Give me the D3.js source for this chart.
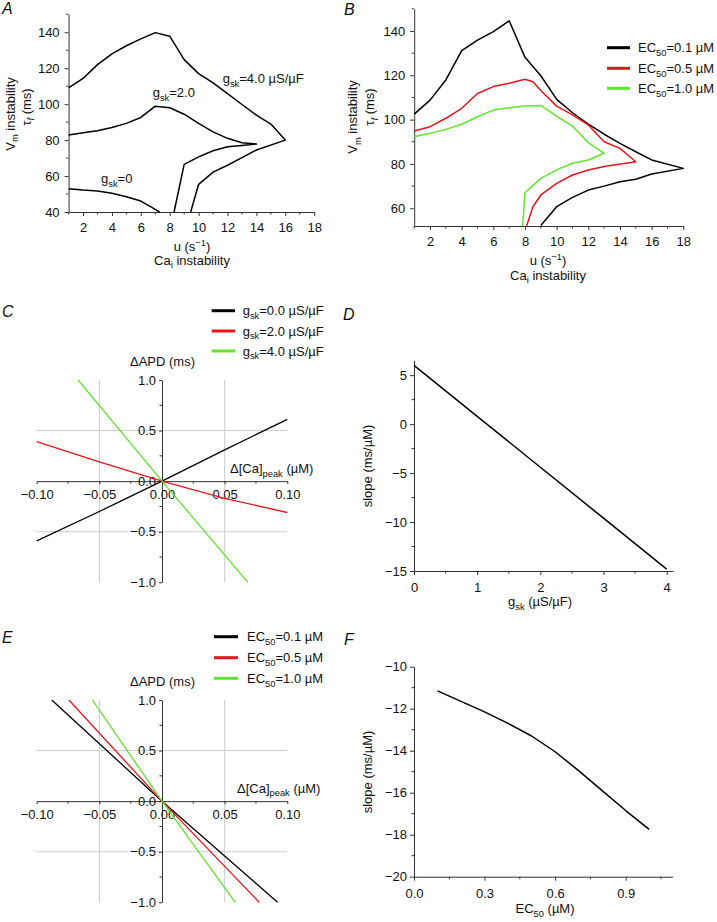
<!DOCTYPE html>
<html><head><meta charset="utf-8">
<script src="https://cdn.jsdelivr.net/npm/d3@7"></script>
<style>
body{margin:0;background:#fff;}
svg{display:block;font-family:"Liberation Sans",Arial,Helvetica,sans-serif;}
</style></head><body>
<svg id="c" width="717" height="922"></svg>
<script>
// ---------- DATA ----------
// Panel A: stability boundaries for different gsk
const A_g0_u   = [1, 2, 3, 4, 5, 6, 7, 7.3];
const A_g0_tau = [53, 52.2, 51.7, 50.4, 48.5, 46.1, 41.5, 40];
const A_g2_u   = [1, 2, 3, 4, 5, 6, 7, 8, 9, 10, 11, 12, 13, 14, 13, 12, 11, 10, 9, 8.3];
const A_g2_tau = [82.8, 84.1, 85.2, 87, 89.3, 92.6, 98.9, 98, 94.4, 89.3, 84.6, 81, 78.5, 77.8, 77, 76.3, 74.1, 70.7, 66.5, 40];
const A_g4_u   = [1, 2, 3, 4, 5, 6, 7, 8, 9, 10, 11, 12, 13, 14, 15, 16, 14, 13, 12, 11, 10, 9.45];
const A_g4_tau = [109, 114.3, 122, 128, 132.5, 136.3, 139.8, 137.8, 124.8, 117, 111.8, 105.9, 99.8, 93.9, 88.9, 80, 74.5, 70.3, 66, 62.2, 55.4, 40];
// Panel B: stability boundaries for different EC50
const B_ec01_u   = [1, 2, 3, 4, 5, 6, 7, 8, 9, 10, 11, 12, 13, 14, 15, 16, 18, 16, 15, 14, 13, 12, 11, 10, 9];
const B_ec01_tau = [102.5, 108.8, 117.9, 131.1, 135.9, 139.7, 144.6, 128.1, 119.8, 109.1, 103.1, 98, 93.4, 89.3, 85.5, 81.8, 78, 75.5, 73.1, 72, 70, 68.2, 64.9, 60.7, 52.2];
const B_ec05_u   = [1, 2, 3, 4, 5, 6, 7, 8, 8.5, 9, 10, 11, 12, 13, 14, 15, 13, 12, 11, 10, 9, 8.5, 8.1];
const B_ec05_tau = [94.9, 96.8, 100.6, 105.1, 111.8, 114.9, 116.4, 118.2, 117.1, 113.1, 106.1, 102.1, 97.6, 90, 87, 81, 78.8, 77.3, 75, 71.2, 66, 60.7, 52];
const B_ec10_u   = [1, 2, 3, 4, 5, 6, 7, 8, 9, 10, 11, 12, 13, 12, 11, 10, 9, 8, 7.85];
const B_ec10_tau = [92.3, 93.8, 95.6, 97.9, 101.3, 104.3, 105.4, 106.1, 106.4, 101.6, 97.1, 89.6, 84.8, 81.8, 80.3, 77.3, 73.5, 67, 52];
// Panel C: dAPD vs d[Ca]peak for gsk
const C_dCa      = [-0.1, -0.05, 0, 0.05, 0.1];
const C_g0_dAPD  = [-0.59, -0.3, 0, 0.31, 0.61];
const C_g2_dAPD  = [0.39, 0.19, 0, -0.17, -0.31];
const C_g4_dCa   = [-0.067, 0, 0.0685];
const C_g4_dAPD  = [1.0, 0, -1.0];
// Panel D: slope vs gsk
const D_gsk   = [0, 1, 2, 3, 4];
const D_slope = [6.0, 0.8, -4.4, -9.6, -14.8];
// Panel E: dAPD vs d[Ca]peak for EC50
const E_ec01_dCa = [-0.088, 0, 0.0922];
const E_ec05_dCa = [-0.0743, 0, 0.0776];
const E_ec10_dCa = [-0.0556, 0, 0.0584];
const E_dAPD     = [1.0, 0, -1.0];
// Panel F: slope vs EC50
const F_ec50  = [0.1, 0.2, 0.3, 0.4, 0.5, 0.6, 0.7, 0.8, 0.9, 1.0];
const F_slope = [-11.15, -11.65, -12.15, -12.7, -13.3, -14.05, -14.95, -15.9, -16.85, -17.75];
// legends
const legendGsk = ["0.0", "2.0", "4.0"];
const legendEC  = ["0.1", "0.5", "1.0"];
const seriesColors = ["#000000", "#e8141b", "#5fe62a"];

// ---------- HELPERS ----------
const svg = d3.select("#c");
const FONT = '"Liberation Sans",Arial,Helvetica,sans-serif';
const AX = "#333";
const FS = 13;

function zip(a, b) { return a.map((v, i) => [v, b[i]]); }

function rich(g, x, y, parts, opts = {}) {
  const size = opts.size || FS;
  const t = g.append("text").attr("x", x).attr("y", y)
    .attr("font-size", size).attr("fill", "#111")
    .attr("text-anchor", opts.anchor || "start").attr("font-family", FONT);
  if (opts.rotate) t.attr("transform", `rotate(-90,${x},${y})`);
  let shift = 0;
  parts.forEach(p => {
    const [s, kind] = Array.isArray(p) ? p : [p, "n"];
    const isSub = kind === "sub" || kind === "subit";
    const target = isSub ? 0.3 : kind === "sup" ? -0.36 : 0;
    const ts = t.append("tspan").text(s);
    if (kind !== "n") ts.attr("font-size", "0.72em");
    if (kind === "subit") ts.attr("font-style", "italic");
    const dy = target - shift;
    if (dy !== 0) ts.attr("dy", (dy * size).toFixed(2));
    shift = target;
  });
  return t;
}

function axis(pos, scale, side, major, minor, fmt, len, pad) {
  const g = svg.append("g").attr("transform", side === "bottom" ? `translate(0,${pos})` : `translate(${pos},0)`);
  const a = (side === "bottom" ? d3.axisBottom(scale) : d3.axisLeft(scale))
    .tickValues(major).tickFormat(fmt).tickSize(len).tickSizeOuter(0).tickPadding(pad);
  g.call(a);
  g.attr("font-family", FONT).attr("font-size", FS);
  g.select(".domain").attr("stroke", AX);
  g.selectAll(".tick line").attr("stroke", AX);
  g.selectAll(".tick text").attr("fill", "#111");
  g.selectAll(".mn").data(minor).join("line").attr("class", "mn").attr("stroke", AX)
    .attr("x1", d => side === "bottom" ? scale(d) : 0)
    .attr("x2", d => side === "bottom" ? scale(d) : -2.5)
    .attr("y1", d => side === "bottom" ? 0 : scale(d))
    .attr("y2", d => side === "bottom" ? 2.5 : scale(d));
  return g;
}

function curve(xs, ys, x, y, color, w = 1.5) {
  svg.append("path").datum(zip(xs, ys))
    .attr("fill", "none").attr("stroke", color).attr("stroke-width", w)
    .attr("stroke-linejoin", "round")
    .attr("d", d3.line().x(d => x(d[0])).y(d => y(d[1])));
}

function panelLetter(x, y, s) {
  svg.append("text").attr("x", x).attr("y", y).text(s)
    .attr("font-size", 16).attr("font-style", "italic").attr("font-family", FONT).attr("fill", "#111");
}

const f0 = d3.format("d"), f1 = d3.format(".1f"), f2 = d3.format(".2f");
const range = (a, b, s) => d3.range(a, b + s / 2, s);

// ---------- PANEL A ----------
{
  const x = d3.scaleLinear([1, 18], [68.6, 314.2]);
  const y = d3.scaleLinear([40, 150], [212, 14.3]);
  axis(212, x, "bottom", range(2, 18, 2), range(1, 17, 2), f0, 4, 7);
  axis(68.6, y, "left", range(40, 140, 20), range(50, 150, 20), f0, 4, 5);
  curve(A_g0_u, A_g0_tau, x, y, "#000");
  curve(A_g2_u, A_g2_tau, x, y, "#000");
  curve(A_g4_u, A_g4_tau, x, y, "#000");
  rich(svg, 222.7, 83, ["g", ["sk", "sub"], ["=4.0 µS/µF", "n"]]);
  rich(svg, 152.7, 96.7, ["g", ["sk", "sub"], ["=2.0", "n"]]);
  rich(svg, 101, 182.7, ["g", ["sk", "sub"], ["=0", "n"]]);
  rich(svg, 192, 251, ["u (s", ["−1", "sup"], [")", "n"]], { anchor: "middle" });
  rich(svg, 192, 264.5, ["Ca", ["i", "sub"], [" instability", "n"]], { anchor: "middle" });
  rich(svg, 14.5, 114, ["V", ["m", "sub"], [" instability", "n"]], { anchor: "middle", rotate: true });
  rich(svg, 30.5, 107, [["τ", "n"], ["f", "subit"], [" (ms)", "n"]], { anchor: "middle", rotate: true });
  panelLetter(2, 14, "A");
}

// ---------- PANEL B ----------
{
  const x = d3.scaleLinear([1, 18], [414.2, 683.3]);
  const y = d3.scaleLinear([52, 150], [226, 8.8]);
  axis(226, x, "bottom", range(2, 18, 2), range(1, 17, 2), f0, 4, 7);
  axis(414.2, y, "left", range(60, 140, 20), range(70, 150, 20), f0, 4, 5);
  curve(B_ec01_u, B_ec01_tau, x, y, seriesColors[0]);
  curve(B_ec05_u, B_ec05_tau, x, y, seriesColors[1]);
  curve(B_ec10_u, B_ec10_tau, x, y, seriesColors[2]);
  const ly = [47.7, 68.3, 88.3];
  legendEC.forEach((v, i) => {
    svg.append("line").attr("x1", 607).attr("x2", 630).attr("y1", ly[i]).attr("y2", ly[i])
      .attr("stroke", seriesColors[i]).attr("stroke-width", 3);
    rich(svg, 638, ly[i] + 4.5, ["EC", ["50", "sub"], [`=${v} µM`, "n"]]);
  });
  rich(svg, 548, 265, ["u (s", ["−1", "sup"], [")", "n"]], { anchor: "middle" });
  rich(svg, 548, 279.5, ["Ca", ["i", "sub"], [" instability", "n"]], { anchor: "middle" });
  rich(svg, 357, 117, ["V", ["m", "sub"], [" instability", "n"]], { anchor: "middle", rotate: true });
  rich(svg, 374, 107, [["τ", "n"], ["f", "subit"], [" (ms)", "n"]], { anchor: "middle", rotate: true });
  panelLetter(344, 15, "B");
}

// ---------- PANELS C / E (crossing axes) ----------
function crossPanel(top, bottom, aprY, caX, caY) {
  const x = d3.scaleLinear([-0.1, 0.1], [36.7, 287.3]);
  const y = d3.scaleLinear([-1, 1], [bottom, top]);
  const grid = svg.append("g").attr("stroke", "#c9cdd0").attr("stroke-width", 1);
  [-0.05, 0.05].forEach(v => grid.append("line").attr("x1", x(v)).attr("x2", x(v)).attr("y1", y(1)).attr("y2", y(-1)));
  [-0.5, 0.5].forEach(v => grid.append("line").attr("x1", x(-0.1)).attr("x2", x(0.1)).attr("y1", y(v)).attr("y2", y(v)));
  axis(y(0), x, "bottom", range(-0.1, 0.1, 0.05), [-0.075, -0.025, 0.025, 0.075], f2, 3, 6);
  axis(x(0), y, "left", range(-1, 1, 0.5), [-0.75, -0.25, 0.25, 0.75], f1, 3, 3);
  rich(svg, 162.5, aprY, ["ΔAPD (ms)"], { anchor: "middle" });
  rich(svg, caX, caY, ["Δ[Ca]", ["peak", "sub"], [" (µM)", "n"]]);
  return { x, y };
}

{
  const { x, y } = crossPanel(380, 582.3, 366, 230, 473);
  curve(C_dCa, C_g0_dAPD, x, y, seriesColors[0], 1.3);
  curve(C_dCa, C_g2_dAPD, x, y, seriesColors[1], 1.3);
  curve(C_g4_dCa, C_g4_dAPD, x, y, seriesColors[2], 1.3);
  const ly = [310.7, 331, 351];
  legendGsk.forEach((v, i) => {
    svg.append("line").attr("x1", 211.7).attr("x2", 235).attr("y1", ly[i]).attr("y2", ly[i])
      .attr("stroke", seriesColors[i]).attr("stroke-width", 3);
    rich(svg, 242.7, ly[i] + 4.5, ["g", ["sk", "sub"], [`=${v} µS/µF`, "n"]]);
  });
  panelLetter(2, 317, "C");
}

{
  const { x, y } = crossPanel(700, 902.3, 686, 237, 792.5);
  curve(E_ec01_dCa, E_dAPD, x, y, seriesColors[0], 1.3);
  curve(E_ec05_dCa, E_dAPD, x, y, seriesColors[1], 1.3);
  curve(E_ec10_dCa, E_dAPD, x, y, seriesColors[2], 1.3);
  const ly = [636.7, 657.7, 678.3];
  legendEC.forEach((v, i) => {
    svg.append("line").attr("x1", 214).attr("x2", 238).attr("y1", ly[i]).attr("y2", ly[i])
      .attr("stroke", seriesColors[i]).attr("stroke-width", 3);
    rich(svg, 247, ly[i] + 4.5, ["EC", ["50", "sub"], [`=${v} µM`, "n"]]);
  });
  panelLetter(2, 643, "E");
}

// ---------- PANEL D ----------
{
  const x = d3.scaleLinear([0, 4.1], [414, 673]);
  const y = d3.scaleLinear([-15, 6.5], [571, 360.5]);
  axis(571, x, "bottom", [0, 1, 2, 3, 4], [0.5, 1.5, 2.5, 3.5], f0, 4, 8);
  axis(414, y, "left", [-15, -10, -5, 0, 5], [-12.5, -7.5, -2.5, 2.5], f0, 4, 3);
  curve(D_gsk, D_slope, x, y, "#000", 1.5);
  rich(svg, 540, 606, ["g", ["sk", "sub"], [" (µS/µF)", "n"]], { anchor: "middle" });
  rich(svg, 372, 466, ["slope (ms/µM)"], { anchor: "middle", rotate: true });
  panelLetter(343, 320, "D");
}

// ---------- PANEL F ----------
{
  const x = d3.scaleLinear([0, 1.1], [414, 672.7]);
  const y = d3.scaleLinear([-20, -10], [876.7, 666.7]);
  axis(876.7, x, "bottom", [0, 0.3, 0.6, 0.9], [0.15, 0.45, 0.75, 1.05], f1, 4, 8);
  axis(414, y, "left", range(-20, -10, 2), range(-19, -11, 2), f0, 4, 3);
  curve(F_ec50, F_slope, x, y, "#000", 1.5);
  rich(svg, 545, 913, ["EC", ["50", "sub"], [" (µM)", "n"]], { anchor: "middle" });
  rich(svg, 372, 772, ["slope (ms/µM)"], { anchor: "middle", rotate: true });
  panelLetter(344, 645, "F");
}
</script>
</body></html>
